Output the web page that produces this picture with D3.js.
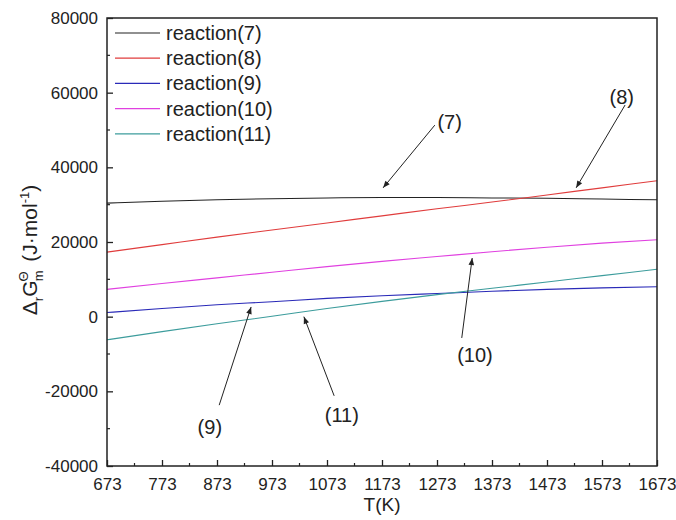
<!DOCTYPE html>
<html><head><meta charset="utf-8">
<script src="https://cdn.jsdelivr.net/npm/d3@7/dist/d3.min.js"></script>
<style>body{margin:0;background:#fff}svg{display:block}text{font-family:"Liberation Sans",Arial,sans-serif}</style>
</head><body><svg id="c" width="676" height="520"></svg>
<script>
const temps = [673,773,873,973,1073,1173,1273,1373,1473,1573,1673];
const r7  = [30400,30900,31300,31600,31800,31900,31900,31800,31700,31500,31300];
const r8  = [17300,19300,21300,23200,25100,27000,28900,30700,32600,34500,36400];
const r9  = [1100,2200,3200,4000,4900,5600,6200,6800,7300,7700,8000];
const r10 = [7300,8900,10400,11900,13400,14800,16100,17400,18600,19700,20600];
const r11 = [-6200,-4000,-1900,100,2200,4100,5900,7600,9300,11000,12700];
const seriesNames = ["reaction(7)","reaction(8)","reaction(9)","reaction(10)","reaction(11)"];
const seriesColors = ["#222222","#e03c3c","#2a2ab8","#e040e0","#3c9c9c"];
const xTicks = [673,773,873,973,1073,1173,1273,1373,1473,1573,1673];
const yTicks = [-40000,-20000,0,20000,40000,60000,80000];
// annotations: label, text pos (T,value), arrow tail, arrow tip
const annLabels = ["(7)","(8)","(10)","(9)","(11)"];
const annText = [[1296,52100],[1609,58800],[1342,-10300],[860,-29600],[1100,-26300]];
const annTail = [[1269,51300],[1615,56700],[1318,-5700],[877,-23700],[1086,-21200]];
const annTip  = [[1175,34500],[1526,34500],[1337,15700],[935,2600],[1031,0]];

const series=[r7,r8,r9,r10,r11];
const svg=d3.select("#c");
const L=107,R=657,T=18,B=466;
const x=d3.scaleLinear().domain([673,1673]).range([L,R]);
const y=d3.scaleLinear().domain([-40000,80000]).range([B,T]);

svg.append("defs").append("marker").attr("id","ar").attr("viewBox","0 0 10 10")
 .attr("refX",10).attr("refY",5).attr("markerWidth",9).attr("markerHeight",7)
 .attr("markerUnits","userSpaceOnUse").attr("orient","auto")
 .append("path").attr("d","M0,1 L10,5 L0,9 Z").attr("fill","#222");

// lines
const line=d3.line().x((d,i)=>x(temps[i])).y(d=>y(d)).curve(d3.curveMonotoneX);
series.forEach((s,i)=>{
  svg.append("path").datum(s).attr("d",line).attr("fill","none")
    .attr("stroke",seriesColors[i]).attr("stroke-width",1.1);
});

// frame
svg.append("rect").attr("x",L).attr("y",T).attr("width",R-L).attr("height",B-T)
 .attr("fill","none").attr("stroke","#222").attr("stroke-width",1.5);

// axes
const fmt=d=>String(d);
const xa=svg.append("g").attr("transform",`translate(0,${B})`)
 .call(d3.axisBottom(x).tickValues(xTicks).tickSize(-6).tickPadding(10).tickFormat(fmt));
const ya=svg.append("g").attr("transform",`translate(${L},0)`)
 .call(d3.axisLeft(y).tickValues(yTicks).tickSize(-6).tickPadding(9).tickFormat(fmt));
[xa,ya].forEach(g=>{g.select(".domain").remove();g.selectAll("line").attr("stroke","#222").attr("stroke-width",1.3);
 g.selectAll("text").attr("font-size",17).attr("fill","#222").style("font-family","Liberation Sans, Arial, sans-serif");});
xa.selectAll("text").attr("dy","0.85em");
// minor ticks
const xMinor=xTicks.slice(0,-1).map(v=>v+50);
svg.append("g").selectAll("line").data(xMinor).join("line")
 .attr("x1",d=>x(d)).attr("x2",d=>x(d)).attr("y1",B).attr("y2",B-3).attr("stroke","#222").attr("stroke-width",1.2);
const yMinor=yTicks.slice(0,-1).map(v=>v+10000);
svg.append("g").selectAll("line").data(yMinor).join("line")
 .attr("x1",L).attr("x2",L+3).attr("y1",d=>y(d)).attr("y2",d=>y(d)).attr("stroke","#222").attr("stroke-width",1.2);

// axis titles
svg.append("text").attr("x",(L+R)/2).attr("y",511).attr("text-anchor","middle")
 .attr("font-size",19).attr("fill","#222").text("T(K)");
const yl=svg.append("text").attr("transform","translate(37,250) rotate(-90)").attr("text-anchor","middle")
 .attr("font-size",21).attr("fill","#222");
yl.append("tspan").text("Δ");
yl.append("tspan").attr("font-size",13).attr("dy",6).text("r");
yl.append("tspan").attr("dy",-6).text("G");
yl.append("tspan").attr("font-size",13).attr("dy",-9).attr("dx",-1).text("Θ");
yl.append("tspan").attr("font-size",13).attr("dy",15).attr("dx",-10).text("m");
yl.append("tspan").attr("dy",-6).attr("dx",3).text(" (J·mol");
yl.append("tspan").attr("font-size",13).attr("dy",-8).text("-1");
yl.append("tspan").attr("dy",8).text(")");

// legend
const lg=svg.append("g");
seriesNames.forEach((n,i)=>{
  const yy=33+i*25.2;
  lg.append("line").attr("x1",115).attr("x2",160).attr("y1",yy).attr("y2",yy)
    .attr("stroke",seriesColors[i]).attr("stroke-width",1.2);
  lg.append("text").attr("x",166).attr("y",yy+7).attr("font-size",20).attr("fill","#222").text(n);
});

// annotations
annLabels.forEach((t,i)=>{
  svg.append("line").attr("x1",x(annTail[i][0])).attr("y1",y(annTail[i][1]))
   .attr("x2",x(annTip[i][0])).attr("y2",y(annTip[i][1]))
   .attr("stroke","#222").attr("stroke-width",1).attr("marker-end","url(#ar)");
  svg.append("text").attr("x",x(annText[i][0])).attr("y",y(annText[i][1])).attr("dy","0.35em")
   .attr("text-anchor","middle").attr("font-size",20).attr("fill","#222").text(t);
});
</script></body></html>
